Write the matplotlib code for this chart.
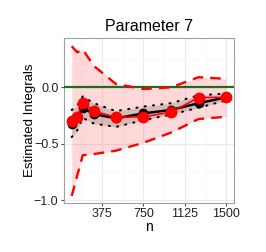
import numpy as np
import matplotlib
matplotlib.use("Agg")
import matplotlib.pyplot as plt

plt.rcParams['font.family'] = ['Liberation Sans', 'DejaVu Sans']

# sample sizes
n = [100, 150, 200, 300, 500, 750, 1000, 1250, 1500]

# red estimator with its interval
red_est = [-0.30, -0.26, -0.135, -0.21, -0.265, -0.26, -0.22, -0.09, -0.088]
red_upper = [0.364, 0.31, 0.335, 0.19, 0.03, -0.015, 0.0, 0.09, 0.075]
red_lower = [-0.96, -0.78, -0.60, -0.59, -0.56, -0.49, -0.40, -0.28, -0.26]

# black estimator with its interval
blk_est = [-0.32, -0.26, -0.18, -0.235, -0.275, -0.23, -0.20, -0.14, -0.088]
blk_upper = [-0.20, -0.16, -0.08, -0.14, -0.21, -0.17, -0.14, -0.07, -0.055]
blk_lower = [-0.44, -0.38, -0.27, -0.32, -0.35, -0.29, -0.24, -0.18, -0.115]

true_value = 0.0

fig = plt.figure(figsize=(2.66, 2.52), dpi=100)
ax = fig.add_axes([0.2406, 0.1956, 0.639, 0.653])

ax.fill_between(n, red_lower, red_upper, color='red', alpha=0.15, lw=0, zorder=2)
ax.fill_between(n, blk_lower, blk_upper, color='black', alpha=0.15, lw=0, zorder=3)

ax.axhline(true_value, color='#1f6b1f', lw=1.6, zorder=4)

ax.plot(n, red_upper, color='red', lw=1.7, ls=(0, (4.5, 3)), zorder=5)
ax.plot(n, red_lower, color='red', lw=1.7, ls=(0, (4.5, 3)), zorder=5)
ax.plot(n, blk_upper, color='black', lw=1.5, ls=(0, (0.5, 3.5)),
        dash_capstyle='round', zorder=5)
ax.plot(n, blk_lower, color='black', lw=1.5, ls=(0, (0.5, 3.5)),
        dash_capstyle='round', zorder=5)

ax.plot(n, blk_est, color='black', lw=1.8, marker='o', ms=6, zorder=6)
ax.plot(n, red_est, color='red', lw=1.2, marker='o', ms=7.5, zorder=7)

ax.set_xlim(30, 1570)
ax.set_ylim(-1.02, 0.435)
ax.set_xticks([375, 750, 1125, 1500])
ax.set_xticks([187.5, 562.5, 937.5, 1312.5], minor=True)
ax.set_yticks([-1.0, -0.5, 0.0])
ax.set_yticks([-0.75, -0.25, 0.25], minor=True)
ax.set_yticklabels(['\u22121.0', '\u22120.5', '0.0'])

ax.grid(True, which='major', color='#ebebeb', lw=0.8)
ax.grid(True, which='minor', color='#f5f5f5', lw=0.5)
ax.set_axisbelow(True)

for s in ax.spines.values():
    s.set_color('#a0a0a0')
    s.set_linewidth(0.8)
ax.tick_params(which='major', length=2.5, color='#505050', labelsize=9, pad=1.5,
               labelcolor='#222222')
ax.tick_params(which='minor', length=0)

ax.set_title('Parameter 7', fontsize=11.5, pad=5)
ax.set_xlabel('n', fontsize=10, labelpad=0)
ax.set_ylabel('Estimated Integrals', fontsize=9.5, labelpad=-1.5)

fig.savefig('out.png', dpi=100)
